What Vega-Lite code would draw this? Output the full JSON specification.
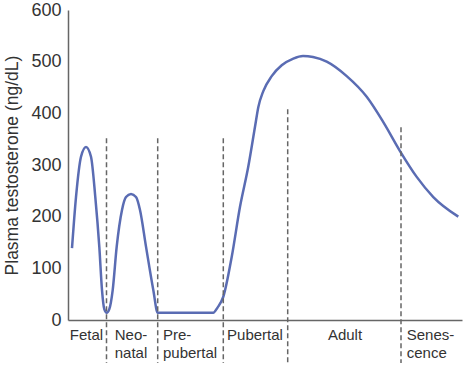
{
  "$schema": "https://vega.github.io/schema/vega-lite/v6.json",
  "width": 394,
  "height": 310,
  "autosize": {"type": "none"},
  "padding": {"left": 68, "top": 10, "right": 2, "bottom": 48},
  "background": "white",
  "config": {
    "view": {"stroke": null},
    "font": "Liberation Sans",
    "axis": {"domainColor": "#666", "domainWidth": 1.5, "labelColor": "#333", "titleColor": "#333", "grid": false, "ticks": false}
  },
  "datasets": {
    "curve": [
      {"x": 4, "y": 139}, {"x": 8, "y": 238}, {"x": 13, "y": 316}, {"x": 18, "y": 335}, {"x": 23, "y": 316}, {"x": 27.3, "y": 238},
      {"x": 31.3, "y": 142}, {"x": 34, "y": 58}, {"x": 36.3, "y": 21}, {"x": 38.7, "y": 14}, {"x": 41.3, "y": 21}, {"x": 44.7, "y": 58},
      {"x": 48.7, "y": 142}, {"x": 54, "y": 213}, {"x": 58, "y": 238}, {"x": 63, "y": 244}, {"x": 68, "y": 238}, {"x": 72, "y": 213},
      {"x": 78, "y": 142}, {"x": 85.3, "y": 58}, {"x": 89.7, "y": 14}, {"x": 145.3, "y": 14}, {"x": 149.5, "y": 24},
      {"x": 155.3, "y": 45}, {"x": 163.7, "y": 122}, {"x": 172, "y": 219}, {"x": 180.3, "y": 297}, {"x": 187, "y": 374},
      {"x": 190.3, "y": 412}, {"x": 195.3, "y": 443}, {"x": 203.7, "y": 472}, {"x": 213.7, "y": 493}, {"x": 225.3, "y": 506},
      {"x": 235, "y": 511}, {"x": 245, "y": 509}, {"x": 258.7, "y": 500}, {"x": 278.7, "y": 472}, {"x": 298.7, "y": 432}, {"x": 315.3, "y": 383},
      {"x": 332, "y": 327}, {"x": 348.7, "y": 277}, {"x": 365.3, "y": 238}, {"x": 390.3, "y": 200}
    ],
    "dividers": [
      {"x": 38.5, "top": 352, "bottom": -83},
      {"x": 89.7, "top": 352, "bottom": -83},
      {"x": 155.3, "top": 352, "bottom": -83},
      {"x": 219.7, "top": 408, "bottom": -83},
      {"x": 333, "top": 373, "bottom": -83}
    ],
    "labels": [
      {"x": 18.5, "y": -29, "label": ["Fetal"], "align": "center"},
      {"x": 63, "y": -29, "label": ["Neo-", "natal"], "align": "center"},
      {"x": 95, "y": -29, "label": ["Pre-", "pubertal"], "align": "left"},
      {"x": 187, "y": -29, "label": ["Pubertal"], "align": "center"},
      {"x": 277, "y": -29, "label": ["Adult"], "align": "center"},
      {"x": 338.7, "y": -29, "label": ["Senes-", "cence"], "align": "left"}
    ]
  },
  "layer": [
    {
      "data": {"name": "curve"},
      "mark": {"type": "line", "interpolate": "monotone", "color": "#5a6cb3", "strokeWidth": 2.5, "clip": false},
      "encoding": {
        "x": {"field": "x", "type": "quantitative", "scale": {"domain": [0, 394], "nice": false}, "axis": {"labels": false, "title": null, "ticks": false, "domainColor": "#666"}},
        "y": {"field": "y", "type": "quantitative", "scale": {"domain": [0, 600], "nice": false}, "axis": {"values": [0, 100, 200, 300, 400, 500, 600], "labelFontSize": 18, "labelPadding": 7, "title": "Plasma testosterone (ng/dL)", "titleFontSize": 17.5, "titleFontWeight": "normal", "titlePadding": 9}}
      }
    },
    {
      "data": {"name": "dividers"},
      "mark": {"type": "rule", "color": "#666", "strokeWidth": 1.5, "strokeDash": [5, 3], "clip": false},
      "encoding": {
        "x": {"field": "x", "type": "quantitative"},
        "y": {"field": "top", "type": "quantitative"},
        "y2": {"field": "bottom"}
      }
    },
    {
      "data": {"name": "labels"},
      "transform": [{"filter": "datum.align === 'center'"}],
      "mark": {"type": "text", "align": "center", "baseline": "middle", "fontSize": 15, "color": "#333", "lineHeight": 18, "clip": false},
      "encoding": {
        "x": {"field": "x", "type": "quantitative"},
        "y": {"field": "y", "type": "quantitative"},
        "text": {"field": "label"}
      }
    },
    {
      "data": {"name": "labels"},
      "transform": [{"filter": "datum.align === 'left'"}],
      "mark": {"type": "text", "align": "left", "baseline": "middle", "fontSize": 15, "color": "#333", "lineHeight": 18, "clip": false},
      "encoding": {
        "x": {"field": "x", "type": "quantitative"},
        "y": {"field": "y", "type": "quantitative"},
        "text": {"field": "label"}
      }
    }
  ]
}
